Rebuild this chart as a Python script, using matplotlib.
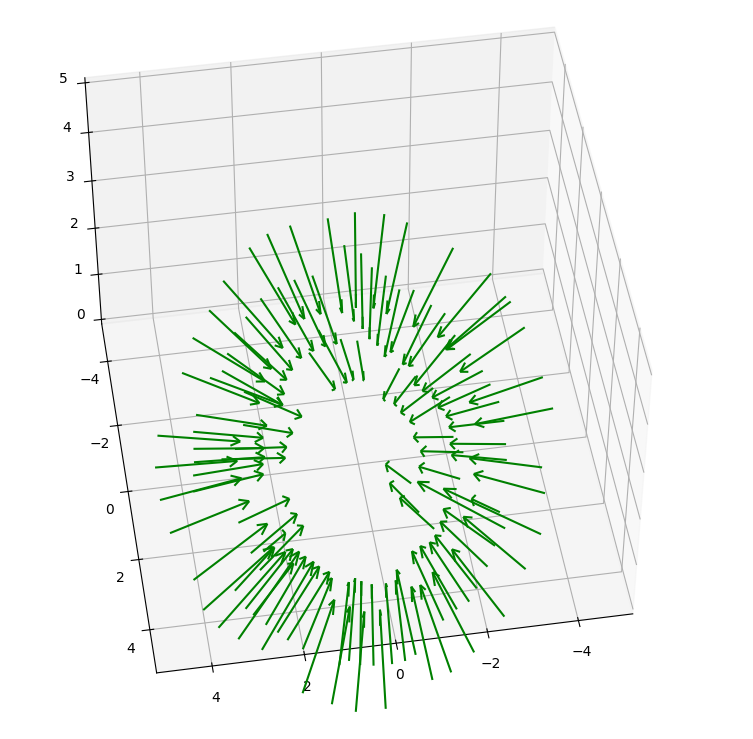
import numpy as np
import matplotlib
matplotlib.use('Agg')
import matplotlib.pyplot as plt

# arrow tails
x = [-0.47, -0.72, -1.14, 0.45, 1.02, 1.50, 0.17, 0.61, 1.02, 2.25, 1.47, 1.89, 2.70, 2.22, 3.19, 2.47, 3.57, 2.96, 2.66,
     2.25, -0.17, 0.61, 0.29, -0.54, 3.42, 2.41, 3.55, 4.36, 3.61, 2.69, 4.53, 3.65, 3.03, 3.72, 3.78, 4.54, 4.44, 2.91,
     4.10, 2.76, 2.63, 2.48, 3.25, 4.00, 3.74, 3.09, 3.36, 2.95, 2.72, 2.90, 2.50, 2.32, 2.03, 2.21, 1.64, 1.32, 1.10,
     1.17, 0.88, 0.60, 0.53, 0.20, -0.09, -0.34, -0.58, -1.01, -1.59, -1.09, -1.43, -1.73, -1.96, -2.41, -2.30, -3.11,
     -2.57, -1.33, -1.08, -1.05, -2.88, -3.63, -2.85, -2.15, -3.94, -4.02, -3.28, -2.36, -3.35, -2.22, -3.44, -4.60,
     -3.43, -4.55, -3.33, -3.23, -4.43, -3.05, -2.35, -2.02, -1.69, -1.36, -2.80, -4.18, -4.26, -3.97, -2.69, -2.42,
     -3.24, -2.10, -1.77, -1.53, -1.25, -1.07, -1.82, -2.31]
y = [-7.64, -6.70, -7.74, -7.54, -7.35, -6.97, -5.83, -5.76, -5.58, -5.99, -5.29, -4.76, -5.10, -4.31, -4.29, -3.68,
     -3.24, -2.99, -3.16, -2.44, -3.72, -3.41, -4.08, -3.61, -1.91, -1.44, -1.41, -1.42, -0.90, -0.75, -0.48, -0.50,
     -0.49, -0.11, 0.36, 0.49, 1.48, 1.42, 2.89, 2.33, 2.84, 2.33, 3.33, 3.76, 4.30, 3.87, 4.68, 4.07, 4.38, 5.05, 4.63,
     4.87, 5.17, 6.35, 6.74, 5.72, 5.64, 7.02, 5.79, 5.85, 7.04, 5.87, 5.83, 5.70, 6.43, 6.29, 5.83, 4.86, 4.60, 4.43,
     4.09, 4.96, 3.52, 3.72, 2.96, 2.27, 1.75, 0.88, 2.50, 2.79, 2.02, 0.92, 1.63, 0.87, 0.53, 0.15, 0.06, -0.34, -0.64,
     -0.84, -1.23, -1.82, -1.79, -2.23, -3.42, -2.79, -1.55, -1.88, -2.30, -2.60, -3.43, -4.46, -4.28, -5.25, -4.15,
     -4.46, -6.21, -5.00, -5.07, -5.56, -5.88, -6.37, -7.57, -7.21]
z = np.zeros(len(x))

# arrow directions
u = [-0.53, -0.49, -0.23, -0.90, -1.04, -1.25, -0.82, -0.97, -1.06, -1.55, -1.17, -1.30, -1.61, -1.43, -1.85, -1.54,
     -1.97, -1.90, -1.62, -1.59, -0.64, -0.92, -0.95, -0.51, -1.86, -1.43, -1.84, -2.09, -1.28, -0.82, -1.58, -1.29,
     -1.10, -1.28, -1.29, -1.58, -1.53, -0.83, -1.43, -0.74, -0.68, -0.17, -0.62, -1.34, -1.29, -0.81, -1.17, -0.63,
     -0.65, -0.95, -0.67, -0.67, -0.39, -0.50, -0.20, 0.02, 0.10, 0.01, 0.21, 0.29, 0.33, 0.40, 0.48, 0.67, 0.70, 0.93,
     1.18, 0.99, 1.12, 1.20, 1.27, 1.46, 1.41, 1.72, 1.53, 1.14, 1.03, 0.97, 2.21, 2.42, 1.12, 1.35, 2.00, 2.05, 1.69,
     1.41, 1.72, 0.42, 0.76, 1.30, 0.73, 1.22, 0.74, 0.71, 1.07, 0.69, 0.48, 0.31, 0.08, -0.03, 0.56, 1.01, 1.08, 0.88,
     0.47, 0.31, 0.63, 0.21, 0.03, -0.10, -0.23, -0.31, 0.03, 0.24]
v = [-1.26, -1.64, -1.31, -1.28, -1.30, -1.36, -1.68, -1.66, -1.68, -1.39, -1.70, -1.75, -1.50, -1.78, -1.61, -1.82,
     -1.73, -1.82, -1.88, -2.02, -2.16, -2.14, -1.89, -2.21, -2.05, -2.30, -2.12, -1.96, 2.59, 2.67, 2.43, 2.54, 2.62,
     2.47, 2.39, 2.25, 2.13, 2.40, 1.82, 2.20, 2.13, 2.48, 2.14, 1.74, 1.54, 1.88, 1.37, 2.01, 1.76, 1.40, 1.79, 1.75,
     1.72, 1.33, 1.25, 1.50, 1.50, 1.18, 1.46, 1.49, 1.15, 1.48, 1.47, 1.35, 1.18, 1.22, 1.25, 1.53, 1.58, 1.62, 1.69,
     1.36, 1.76, 1.49, 1.84, 2.09, 2.16, 2.32, 1.26, 1.08, 2.33, 2.27, 1.83, 1.94, 2.21, 2.39, 2.25, -2.73, -2.64,
     -2.43, -2.56, -2.35, -2.45, -2.42, -2.14, -2.29, -2.45, -2.46, -2.42, -2.38, -2.11, -2.03, -2.10, -1.89, -2.09,
     -1.99, -1.66, -1.95, -1.85, -1.80, -1.75, -1.68, -1.37, -1.43]
w = [-3.11, -2.94, -3.13, -3.02, -2.97, -2.85, -2.84, -2.80, -2.76, -2.69, -2.70, -2.61, -2.59, -2.52, -2.36, -2.42,
     -2.17, -2.16, -2.33, -2.23, -2.55, -2.48, -2.67, -2.54, -1.97, -2.05, -1.92, -1.83, 1.79, 1.93, 1.78, 1.86, 1.86,
     1.96, 2.04, 2.00, 2.16, 2.27, 2.49, 2.48, 2.56, 2.32, 2.57, 2.59, 2.74, 2.71, 2.88, 2.67, 2.83, 2.95, 2.81, 2.83,
     2.91, 3.09, 3.16, 3.05, 3.05, 3.19, 3.06, 3.04, 3.18, 3.03, 3.03, 3.05, 3.11, 3.04, 2.93, 2.87, 2.79, 2.74, 2.66,
     2.75, 2.54, 2.53, 2.42, 2.43, 2.42, 2.28, 2.26, 2.13, 2.21, 2.14, 2.05, 1.90, 1.96, 1.97, 1.88, -1.98, -2.00,
     -1.99, -2.12, -2.14, -2.23, -2.28, -2.42, -2.42, -2.31, -2.32, -2.38, -2.43, -2.60, -2.53, -2.45, -2.69, -2.64,
     -2.74, -2.90, -2.78, -2.85, -2.88, -2.90, -2.94, -3.11, -3.07]

ticks_xy = [-4, -2, 0, 2, 4]
ticks_z = [0, 1, 2, 3, 4, 5]

fig = plt.figure(figsize=(7.53, 7.39), dpi=100)
ax = fig.add_axes([-28/753, 14/739, 1, 1], projection='3d')
ax.quiver(x, y, z, u, v, w, color='green', arrow_length_ratio=0.11)

ax.set_xlim(-5.2, 5.2)
ax.set_ylim(-5.2, 5.2)
ax.set_zlim(-0.1, 5.1)
ax.set_xticks(ticks_xy)
ax.set_yticks(ticks_xy)
ax.set_zticks(ticks_z)
ax.view_init(elev=47, azim=81)
ax.set_box_aspect(None, zoom=1.007)
ax.patch.set_alpha(0)

fig.savefig('out.png')
